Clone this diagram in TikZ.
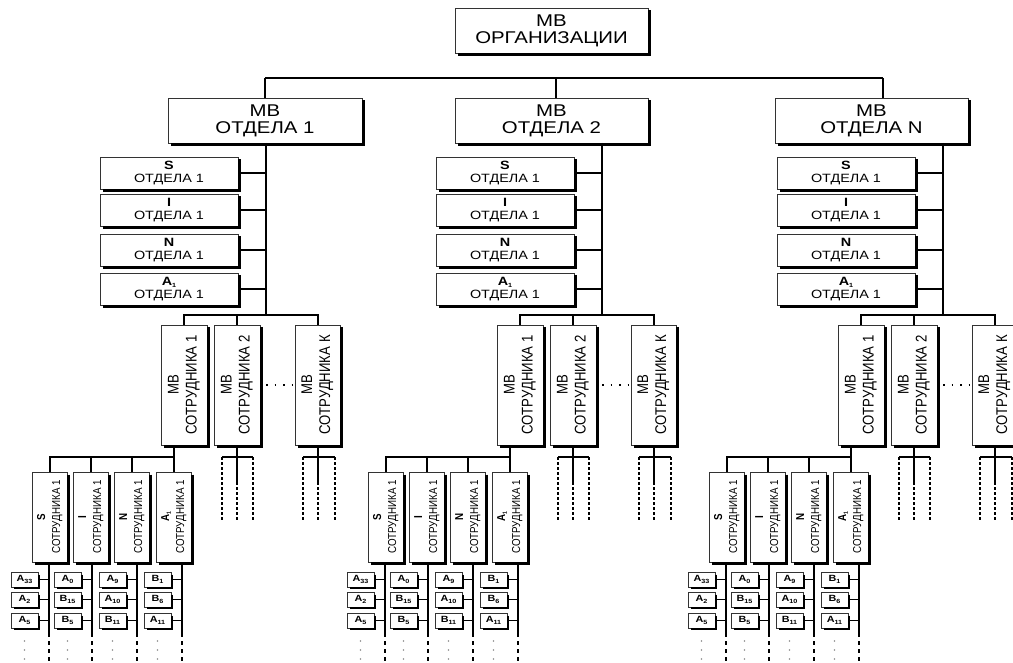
\documentclass[tikz,border=0pt]{standalone}
\usepackage{fontspec}
\setmainfont{Liberation Sans}
\newfontfamily\widefont[FakeStretch=1.2]{Liberation Sans}
\newfontfamily\narrowfont[FakeStretch=0.85]{Liberation Sans}
\newcommand\subs[1]{\raisebox{-0.3ex}{\fontsize{6}{6}\selectfont #1}}
\usetikzlibrary{calc}
\newcommand\shd[2][3]{\draw[line width=#1pt, black, line cap=butt]
   ($(#2.north east)+(0.5*#1,2.5)$) -- ($(#2.south east)+(0.5*#1,0.5*#1)$) --
   ($(#2.south west)+(2.5,0.5*#1)$);}
\begin{document}
\begin{tikzpicture}[x=1pt,y=-1pt,
  anybox/.style={draw=black!80, line width=0.6pt, fill=white, inner sep=0pt, outer sep=0pt,
    anchor=north west, align=center, text=black},
  bigbox/.style={anybox, minimum width=193pt, minimum height=45pt,
    font=\widefont\fontsize{17}{17}\selectfont},
  dbox/.style={anybox, minimum width=138pt, minimum height=32pt,
    font=\widefont\fontsize{12}{13}\selectfont},
  ebox/.style={anybox, minimum width=46pt, minimum height=120pt,
    font=\narrowfont\fontsize{15.5}{18}\selectfont},
  ubox/.style={anybox, minimum width=35pt, minimum height=90pt,
    font=\narrowfont\fontsize{11.5}{15}\selectfont},
  leaf/.style={anybox, minimum width=27pt, minimum height=15pt,
    font=\widefont\bfseries\fontsize{9}{10}\selectfont},
  busline/.style={line width=1.5pt, black},
  thinline/.style={line width=1.1pt, black},
  trunk/.style={line width=2pt, black},
  conn/.style={line width=1.4pt, black},
  dotline/.style={line width=2.4pt, black, dash pattern=on 2.5pt off 2.5pt},
  enddots/.style={line width=2.2pt, black, dash pattern=on 4pt off 4pt},
  sparse/.style={line width=1.3pt, black, dash pattern=on 1.5pt off 7pt}]
\useasboundingbox (0,0) rectangle (1013,663);
\clip (0,0) rectangle (1013,663);

% top level
\node[bigbox] (org) at (455,8) {МВ\\ОРГАНИЗАЦИИ}; \shd{org}
\node[bigbox, minimum width=194pt] (d1) at (168,98) {МВ\\ОТДЕЛА 1}; \shd{d1}
\node[bigbox] (d2) at (455,98) {МВ\\ОТДЕЛА 2}; \shd{d2}
\node[bigbox] (d3) at (775,98) {МВ\\ОТДЕЛА N}; \shd{d3}
\coordinate (b1) at (265,78);
\coordinate (b2) at (556,78);
\coordinate (b3) at (883,78);
\draw[busline] (b1) -- (b3);
\draw[thinline] (b1) -- (b1 |- d1.north);
\draw[thinline] (b2) -- (b2 |- d2.north);
\draw[thinline] (b3) -- (b3 |- d3.north);

\foreach \g/\k in {0/1, 336/2, 677/3} {
  % trunk
  \coordinate (t\k) at (266+\g,315);
  \draw[trunk] (d\k.south -| t\k) -- (t\k);
  % department attribute boxes
  \node[dbox] (sS\k) at (100+\g,157) {\textbf{S}\\ОТДЕЛА 1};
  \node[dbox] (sI\k) at (100+\g,194) {\textbf{I}\\ОТДЕЛА 1};
  \node[dbox] (sN\k) at (100+\g,234) {\textbf{N}\\ОТДЕЛА 1};
  \node[dbox] (sA\k) at (100+\g,273) {\textbf{A\subs{1}}\\ОТДЕЛА 1};
  \foreach \s in {S,I,N,A} {
    \shd[2.6]{s\s\k}
    \draw[conn] (s\s\k.east) -- (s\s\k.east -| t\k);
  }
  % employee boxes
  \node[ebox] (ea\k) at (161+\g,325)
    {\rotatebox{90}{\begin{tabular}{@{}c@{}}МВ\\СОТРУДНИКА 1\end{tabular}}};
  \node[ebox] (eb\k) at (214+\g,325)
    {\rotatebox{90}{\begin{tabular}{@{}c@{}}МВ\\СОТРУДНИКА 2\end{tabular}}};
  \node[ebox, minimum width=45pt] (ek\k) at (295+\g,325)
    {\rotatebox{90}{\begin{tabular}{@{}c@{}}МВ\\СОТРУДНИКА К\end{tabular}}};
  \shd{ea\k} \shd{eb\k} \shd{ek\k}
  \draw[trunk] (ea\k.north) -- (ea\k.north |- t\k) -- (ek\k.north |- t\k) -- (ek\k.north);
  \draw[trunk] (eb\k.north) -- (eb\k.north |- t\k);
  \draw[sparse] ([xshift=6pt]eb\k.east) -- (ek\k.west);
  % stubs below employee 2 and K
  \coordinate (bl\k) at (222+\g,457);
  \coordinate (br\k) at (253+\g,457);
  \coordinate (kl\k) at (303+\g,457);
  \coordinate (kr\k) at (335+\g,457);
  \coordinate (bm\k) at (237+\g,482);
  \coordinate (km\k) at (318+\g,482);
  \draw[trunk] (bl\k) -- (br\k);
  \draw[trunk] (kl\k) -- (kr\k);
  \draw[trunk] (eb\k.south -| bm\k) -- (bm\k);
  \draw[trunk] (ek\k.south -| km\k) -- (km\k);
  \draw[dotline] (bm\k) -- ++(0,38);
  \draw[dotline] (km\k) -- ++(0,38);
  \draw[dotline] (bl\k) -- ++(0,63);
  \draw[dotline] (br\k) -- ++(0,63);
  \draw[dotline] (kl\k) -- ++(0,63);
  \draw[dotline] (kr\k) -- ++(0,63);
  % employee attribute boxes
  \coordinate (sb\k) at (173.5+\g,457);
  \node[ubox] (uS\k) at (32+\g,472)
    {\rotatebox{90}{\begin{tabular}{@{}c@{}}\textbf{S}\\СОТРУДНИКА 1\end{tabular}}};
  \node[ubox] (uI\k) at (73+\g,472)
    {\rotatebox{90}{\begin{tabular}{@{}c@{}}\textbf{I}\\СОТРУДНИКА 1\end{tabular}}};
  \node[ubox] (uN\k) at (114+\g,472)
    {\rotatebox{90}{\begin{tabular}{@{}c@{}}\textbf{N}\\СОТРУДНИКА 1\end{tabular}}};
  \node[ubox] (uA\k) at (156+\g,472)
    {\rotatebox{90}{\begin{tabular}{@{}c@{}}\textbf{A\subs{1}}\\СОТРУДНИКА 1\end{tabular}}};
  \shd[2.6]{uS\k} \shd[2.6]{uI\k} \shd[2.6]{uN\k} \shd[2.6]{uA\k}
  \draw[trunk] (uS\k.north) -- (uS\k.north |- sb\k) -- (sb\k);
  \draw[trunk] (uI\k.north) -- (uI\k.north |- sb\k);
  \draw[trunk] (uN\k.north) -- (uN\k.north |- sb\k);
  \draw[trunk] (ea\k.south -| uA\k.north) -- (uA\k.north);
  % leaf columns
  \foreach \c/\lx/\la/\lb/\lc in {S/49/A\subs{33}/A\subs{2}/A\subs{5},
                                 I/92/A\subs{0}/B\subs{15}/B\subs{5},
                                 N/137/A\subs{9}/A\subs{10}/B\subs{11},
                                 A/182/B\subs{1}/B\subs{6}/A\subs{11}} {
    \coordinate (l\c\k) at (\lx+\g,633);
    \draw[trunk] (u\c\k.south -| l\c\k) -- (l\c\k);
    \draw[enddots] (l\c\k) -- ++(0,32);
    \node[leaf] (f-\c-1-\k) at (\lx-38+\g,572) {\la};
    \node[leaf] (f-\c-2-\k) at (\lx-38+\g,592) {\lb};
    \node[leaf] (f-\c-3-\k) at (\lx-38+\g,613) {\lc};
    \foreach \r in {1,2,3} {
      \shd[2]{f-\c-\r-\k}
      \draw[conn] (f-\c-\r-\k.east) -- (f-\c-\r-\k.east -| l\c\k);
    }
    \foreach \yy in {641,650,659} {
      \fill[black!45] (\lx-24.5+\g,\yy) circle (0.8pt);
    }
  }
}
\end{tikzpicture}
\end{document}
